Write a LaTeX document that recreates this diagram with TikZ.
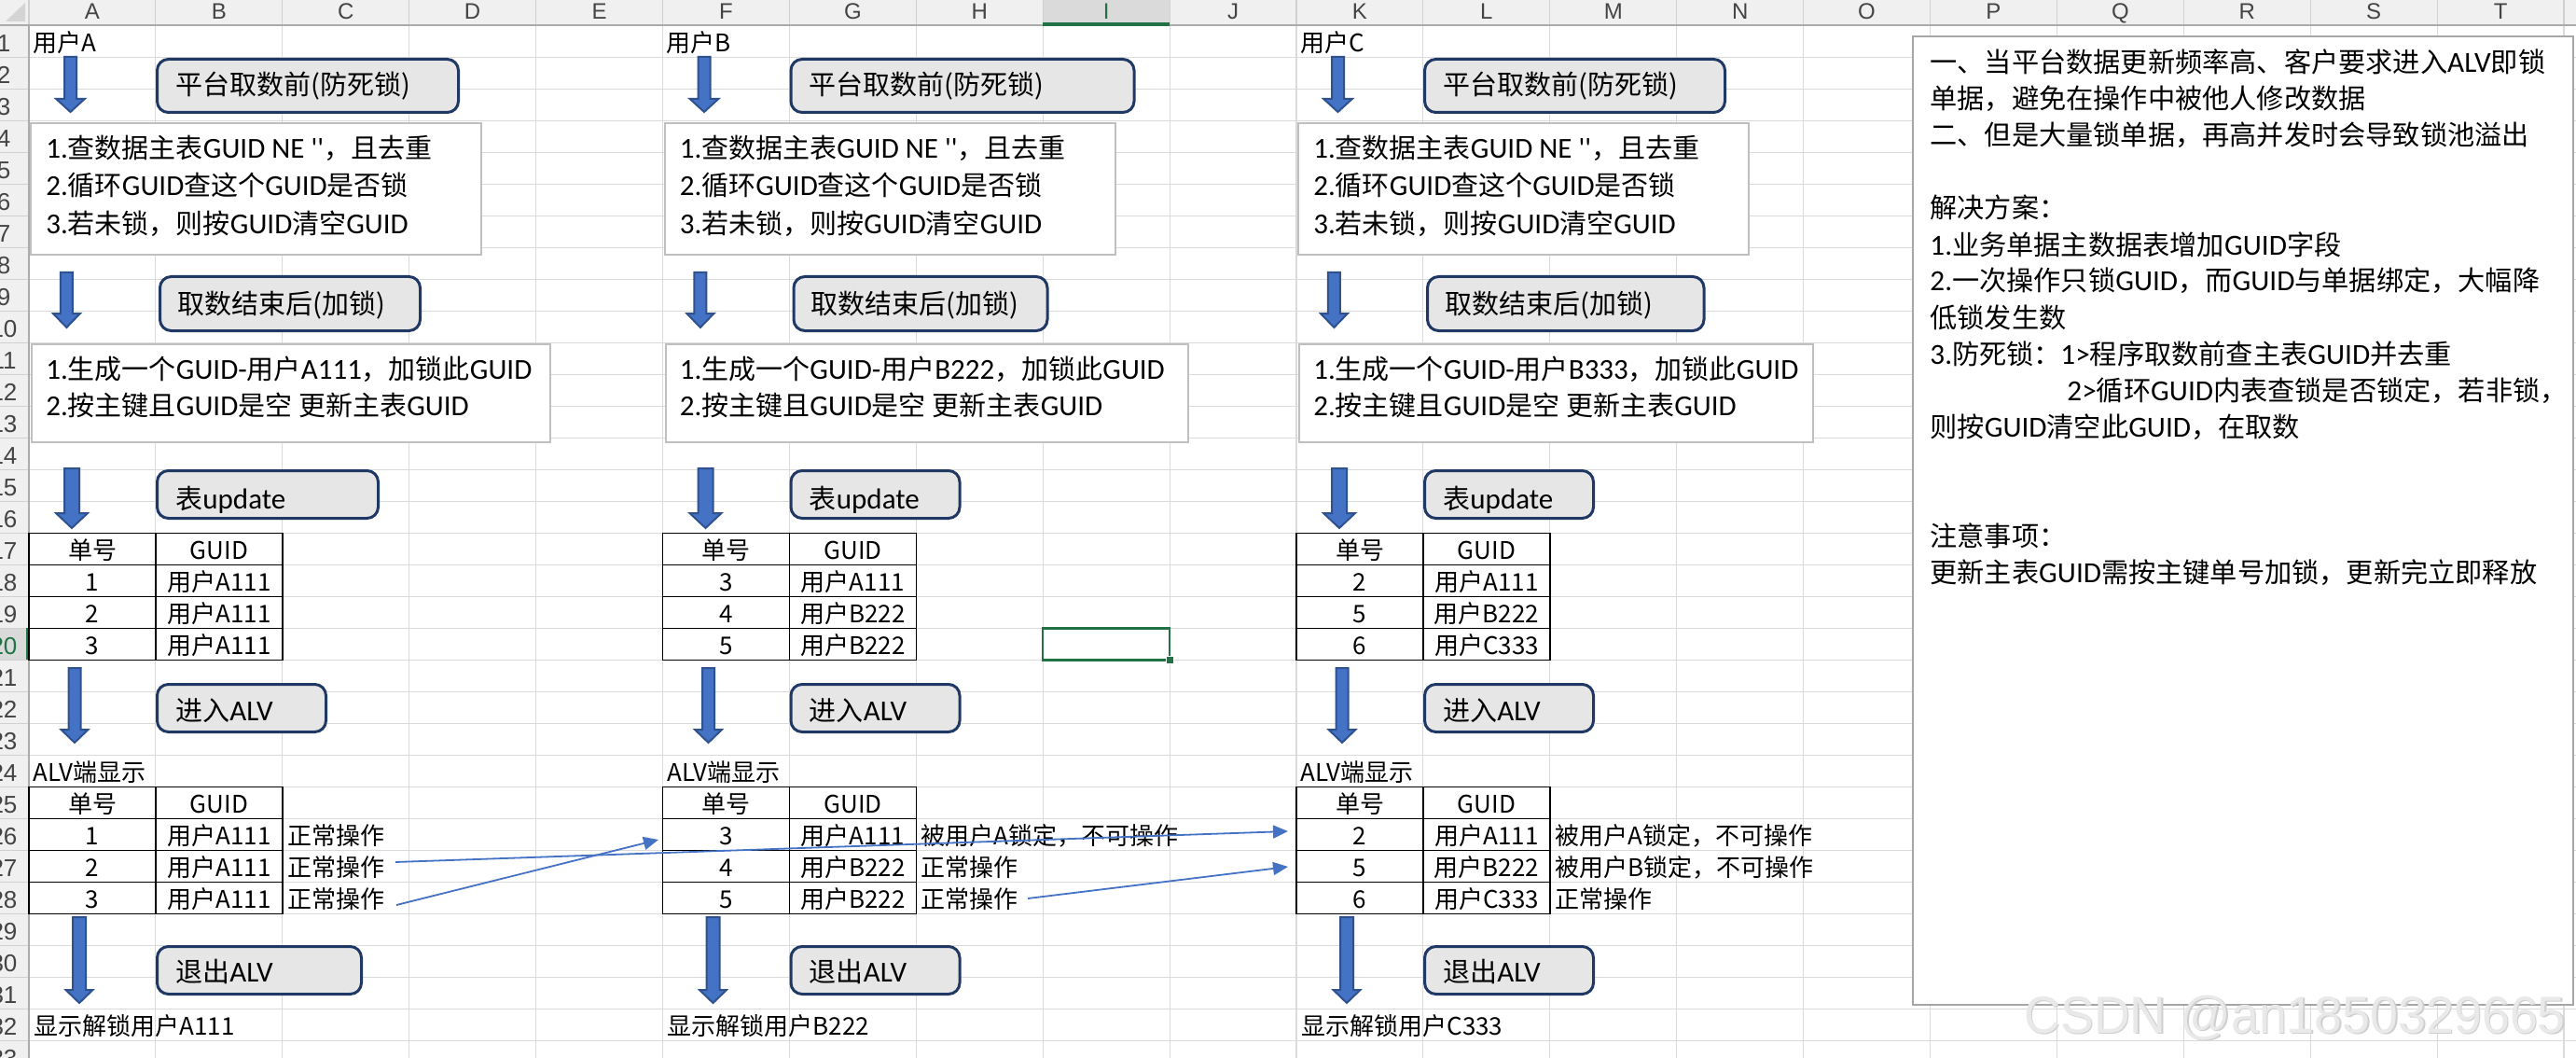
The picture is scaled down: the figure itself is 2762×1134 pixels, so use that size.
\documentclass[tikz,border=0pt]{standalone}
\usepackage{fontspec}
\setmainfont{Noto Sans CJK SC}
\newfontfamily\hdrfont{Liberation Sans}
\newfontfamily\latf{Carlito}[Scale=1.07]
\usetikzlibrary{arrows.meta}
\definecolor{xlblue}{HTML}{4472C4}
\definecolor{xlbluedark}{HTML}{2F528F}
\definecolor{boxnavy}{HTML}{1F3864}
\definecolor{boxfill}{HTML}{E7E6E6}
\definecolor{tbline}{HTML}{BFBFBF}
\definecolor{gridc}{HTML}{DADADA}
\definecolor{hdrbg}{HTML}{F0F0F0}
\definecolor{hdrsel}{HTML}{DADADA}
\definecolor{hdrsepc}{HTML}{D0D0D0}
\definecolor{hdrlinec}{HTML}{ABABAB}
\definecolor{hdrtxt}{HTML}{444444}
\definecolor{xlgreen}{HTML}{217346}
\definecolor{noteline}{HTML}{A6A6A6}
\definecolor{wmfill}{HTML}{E9E9E9}
\definecolor{wmshadow}{HTML}{CFCFCF}
\definecolor{cornerc}{HTML}{D4D4D4}
\newcommand\fsCell{\fontsize{13}{15}\selectfont}
\newcommand\fsBox{\fontsize{14.5}{17}\selectfont}
\newcommand\fsNote{\fontsize{14.6}{17}\selectfont}
\newcommand\fsHead{\hdrfont\fontsize{12}{14}\selectfont}
\newcommand\fsRow{\hdrfont\fontsize{13}{15}\selectfont}
\newcommand\fsMark{\hdrfont\fontsize{28}{30}\selectfont}
\tikzset{
  gridline/.style={draw=gridc, line width=0.55pt},
  hdrsep/.style={draw=hdrsepc, line width=0.55pt},
  hdrline/.style={draw=hdrlinec, line width=0.8pt},
  colhead/.style={font=\fsHead, text=hdrtxt, inner sep=0pt, anchor=base},
  rownum/.style={font=\fsRow, text=hdrtxt, inner sep=0pt, anchor=base},
  xcell/.style={font=\fsCell, inner sep=0pt, anchor=base west},
  xcellc/.style={font=\fsCell, inner sep=0pt, anchor=base},
  boxtext/.style={font=\fsBox, inner sep=0pt, anchor=base west},
  notetext/.style={font=\fsNote, inner sep=0pt, anchor=base west},
  stepbox/.style={draw=boxnavy, fill=boxfill, line width=1.5pt, rounded corners=6pt, inner sep=0pt, anchor=north west},
  infobox/.style={draw=tbline, fill=white, line width=1.1pt, inner sep=0pt, anchor=north west},
  notebox/.style={draw=noteline, fill=white, line width=1.2pt, inner sep=0pt, anchor=north west},
  barrow/.style={fill=xlblue, draw=xlbluedark, line width=1pt, line join=miter},
  tblline/.style={draw=black, line width=0.7pt},
  xlink/.style={draw=xlblue, line width=0.9pt, -{Triangle[length=8pt,width=7pt]}},
  wm/.style={font=\fsMark, inner sep=0pt, anchor=base west},
}
% block arrow: #1 centre x, #2 top, #3 head start, #4 tip, #5 shaft half width, #6 head half width
\newcommand\bdarrow[6]{%
  \filldraw[barrow] (#1-#5,#2) -- (#1+#5,#2) -- (#1+#5,#3) -- (#1+#6,#3) -- (#1,#4) -- (#1-#6,#3) -- (#1-#5,#3) -- cycle;}
% table grid: #1 x offset, #2 header row
\newcommand\tabgrid[2]{%
  \draw[tblline] ({#1+31},{27.3+34*(#2-1)}) rectangle ({#1+303},{27.3+34*(#2+3)});
  \draw[tblline] ({#1+167},{27.3+34*(#2-1)}) -- ({#1+167},{27.3+34*(#2+3)});
  \foreach \k in {0,1,2} \draw[tblline] ({#1+31},{27.3+34*(#2+\k)}) -- ({#1+303},{27.3+34*(#2+\k)});}
% table cells: #1 offset, #2 prefix, #3 header row, #4..#9 rows
\newcommand\tabcells[9]{%
  \node[xcellc] (#2-h#3a) at ({#1+99},{55.3+34*(#3-1)}) {单号};
  \node[xcellc] (#2-h#3b) at ({#1+235},{55.3+34*(#3-1)}) {GUID};
  \node[xcellc] (#2-n#3a) at ({#1+99},{55.3+34*#3}) {#4};
  \node[xcellc] (#2-g#3a) at ({#1+235},{55.3+34*#3}) {#5};
  \node[xcellc] (#2-n#3b) at ({#1+99},{55.3+34*(#3+1)}) {#6};
  \node[xcellc] (#2-g#3b) at ({#1+235},{55.3+34*(#3+1)}) {#7};
  \node[xcellc] (#2-n#3c) at ({#1+99},{55.3+34*(#3+2)}) {#8};
  \node[xcellc] (#2-g#3c) at ({#1+235},{55.3+34*(#3+2)}) {#9};}
% user block: #1 offset, #2 user letter/prefix, #3 unlock id, #4 box1 right, #5 box2 right,
% #6 info2 right, #7 update right, #8 exit right, #9 generated id
\newcommand\userblock[9]{%
  \node[xcell] (#2-user) at ({#1+35},55.3) {用户#2};
  \bdarrow{#1+75.5}{61}{106}{120}{6.5}{15.3}
  \node[stepbox, minimum width={(#4-167)*0.5pt}, minimum height=28.5pt] (#2-pre) at ({#1+167},62) {};
  \node[boxtext] (#2-pret) at ({#1+188},102) {平台取数前(防死锁)};
  \node[infobox, minimum width=241.5pt, minimum height=70.5pt] (#2-chk) at ({#1+32},131) {};
  \node[boxtext] (#2-chk1) at ({#1+49},170) {{\latf 1.}查数据主表{\latf GUID NE ''}，且去重};
  \node[boxtext] (#2-chk2) at ({#1+49},210) {{\latf 2.}循环{\latf GUID}查这个{\latf GUID}是否锁};
  \node[boxtext] (#2-chk3) at ({#1+49},250) {{\latf 3.}若未锁，则按{\latf GUID}清空{\latf GUID}};
  \bdarrow{#1+71.4}{292}{336}{351}{6.5}{14.5}
  \node[stepbox, minimum width={(#5-170)*0.5pt}, minimum height=29pt] (#2-post) at ({#1+170},295) {};
  \node[boxtext] (#2-postt) at ({#1+190},336) {取数结束后(加锁)};
  \node[infobox, minimum width={(#6-33)*0.5pt}, minimum height=52.5pt] (#2-gen) at ({#1+33},368) {};
  \node[boxtext] (#2-gen1) at ({#1+49},406) {{\latf 1.}生成一个{\latf GUID-}用户{\latf #9}，加锁此{\latf GUID}};
  \node[boxtext] (#2-gen2) at ({#1+49},445.5) {{\latf 2.}按主键且{\latf GUID}是空{\latf\ }更新主表{\latf GUID}};
  \bdarrow{#1+77}{502}{550}{566}{8}{17}
  \node[stepbox, minimum width={(#7-167)*0.5pt}, minimum height=25.5pt] (#2-upd) at ({#1+167},503) {};
  \node[boxtext] (#2-updt) at ({#1+188},545) {表{\latf update}};
  \tabgrid{#1}{17}
  \bdarrow{#1+80}{716}{782}{796}{6.5}{14.5}
  \node[stepbox, minimum width=90.5pt, minimum height=25.5pt] (#2-in) at ({#1+167},732) {};
  \node[boxtext] (#2-int) at ({#1+188},772) {进入{\latf ALV}};
  \node[xcell] (#2-alv) at ({#1+35.5},{55.3+34*23}) {ALV端显示};
  \tabgrid{#1}{25}
  \bdarrow{#1+85}{983}{1061}{1075}{7}{14.5}
  \node[stepbox, minimum width={(#8-167)*0.5pt}, minimum height=25.5pt] (#2-out) at ({#1+167},1013) {};
  \node[boxtext] (#2-outt) at ({#1+188},1052) {退出{\latf ALV}};
  \node[xcell] (#2-unl) at ({#1+36},{55.3+34*31}) {显示解锁用户#3};}
\begin{document}
\begin{tikzpicture}[x=0.5pt,y=-0.5pt]
\useasboundingbox (0,0) rectangle (2762,1134);
\clip (0,0) rectangle (2762,1134);
\fill[white] (0,0) rectangle (2762,1134);
% sheet grid
\foreach \k in {1,...,20} \draw[gridline] ({31+135.9*\k},27.3) -- ({31+135.9*\k},1134);
\foreach \r in {1,...,33} \draw[gridline] (31,{27.3+34*\r}) -- (2762,{27.3+34*\r});
% headers
\fill[hdrbg] (0,0) rectangle (2762,27.3);
\fill[hdrbg] (0,27.3) rectangle (31,1134);
\fill[hdrsel] (1118.2,0) rectangle (1254.1,27.3);
\fill[hdrsel] (0,{27.3+34*19}) rectangle (31,{27.3+34*20});
\foreach \k in {0,...,20} \draw[hdrsep] ({31+135.9*\k},0) -- ({31+135.9*\k},27.3);
\foreach \r in {1,...,33} \draw[hdrsep] (0,{27.3+34*\r}) -- (31,{27.3+34*\r});
\draw[hdrline] (0,27.3) -- (2762,27.3);
\draw[hdrline] (31,27.3) -- (31,1134);
\fill[xlgreen] (1118.2,24.3) rectangle (1254.1,27.8);
\fill[xlgreen] (28,{27.3+34*19}) rectangle (31.5,{27.3+34*20});
\fill[cornerc] (6,23) -- (27,23) -- (27,3) -- cycle;
\foreach \L/\i in {A/0,B/1,C/2,D/3,E/4,F/5,G/6,H/7,J/9,K/10,L/11,M/12,N/13,O/14,P/15,Q/16,R/17,S/18,T/19}
  \node[colhead] (col\L) at ({31+135.9*(\i+0.5)},21) {\L};
\node[colhead, text=xlgreen] (colI) at ({31+135.9*8.5},21) {I};
\foreach \r in {1,...,19,21,22,...,33}
  \node[rownum] (row\r) at (4,{55.3+34*(\r-1)}) {\r};
\node[rownum, text=xlgreen] (row20) at (4,{55.3+34*19}) {20};
% three user blocks
\userblock{0}{A}{A111}{490}{449}{589}{404}{386}{A111}
\userblock{679.5}{B}{B222}{535}{442}{593}{348}{348}{B222}
\userblock{1359}{C}{C333}{489}{466.5}{584}{348}{348}{B333}
% table contents
\tabcells{0}{A}{17}{1}{用户A111}{2}{用户A111}{3}{用户A111}
\tabcells{0}{A}{25}{1}{用户A111}{2}{用户A111}{3}{用户A111}
\tabcells{679.5}{B}{17}{3}{用户A111}{4}{用户B222}{5}{用户B222}
\tabcells{679.5}{B}{25}{3}{用户A111}{4}{用户B222}{5}{用户B222}
\tabcells{1359}{C}{17}{2}{用户A111}{5}{用户B222}{6}{用户C333}
\tabcells{1359}{C}{25}{2}{用户A111}{5}{用户B222}{6}{用户C333}
% status texts
\node[xcell] (A-op26) at (308,{55.3+34*25}) {正常操作};
\node[xcell] (A-op27) at (308,{55.3+34*26}) {正常操作};
\node[xcell] (A-op28) at (308,{55.3+34*27}) {正常操作};
\node[xcell] (B-op26) at (987.5,{55.3+34*25}) {被用户A锁定，不可操作};
\node[xcell] (B-op27) at (987.5,{55.3+34*26}) {正常操作};
\node[xcell] (B-op28) at (987.5,{55.3+34*27}) {正常操作};
\node[xcell] (C-op26) at (1667,{55.3+34*25}) {被用户A锁定，不可操作};
\node[xcell] (C-op27) at (1667,{55.3+34*26}) {被用户B锁定，不可操作};
\node[xcell] (C-op28) at (1667,{55.3+34*27}) {正常操作};
% selected cell
\draw[xlgreen, line width=1.25pt] (1118.2,{27.3+34*19}) rectangle (1254.1,{27.3+34*20});
\filldraw[fill=xlgreen, draw=white, line width=0.4pt] (1250,703.3) rectangle (1258,711.3);
% note box
\node[notebox, minimum width=354pt, minimum height=519pt] (note) at (2050,38) {};
\node[notetext] (n1) at (2069,78) {一、当平台数据更新频率高、客户要求进入{\latf ALV}即锁};
\node[notetext] (n2) at (2069,117) {单据，避免在操作中被他人修改数据};
\node[notetext] (n3) at (2069,156) {二、但是大量锁单据，再高并发时会导致锁池溢出};
\node[notetext] (n5) at (2069,234) {解决方案：};
\node[notetext] (n6) at (2069,273) {{\latf 1.}业务单据主数据表增加{\latf GUID}字段};
\node[notetext] (n7) at (2069,312) {{\latf 2.}一次操作只锁{\latf GUID}，而{\latf GUID}与单据绑定，大幅降};
\node[notetext] (n8) at (2069,351) {低锁发生数};
\node[notetext] (n9) at (2069,390) {\makebox[70pt][l]{{\latf 3.}防死锁：}{\latf 1>}程序取数前查主表{\latf GUID}并去重};
\node[notetext] (n10) at (2216,429) {{\latf 2>}循环{\latf GUID}内表查锁是否锁定，若非锁，};
\node[notetext] (n11) at (2069,468) {则按{\latf GUID}清空此{\latf GUID}，在取数};
\node[notetext] (n14) at (2069,585) {注意事项：};
\node[notetext] (n15) at (2069,624) {更新主表{\latf GUID}需按主键单号加锁，更新完立即释放};
% cross links
\coordinate (A27s) at (424,924);
\coordinate (C26e) at (1381,891);
\coordinate (A28s) at (425,970);
\coordinate (B26e) at (706,900);
\coordinate (B28s) at (1102,963);
\coordinate (C27e) at (1381,929);
\draw[xlink] (A27s) -- (C26e);
\draw[xlink] (A28s) -- (B26e);
\draw[xlink] (B28s) -- (C27e);
% watermark
\node[wm, text=wmshadow] (wmark-s) at (2171.5,1108.5) {\scalebox{0.96}[1]{CSDN @an1850329665}};
\node[wm, text=wmfill] (wmark) at (2170,1107) {\scalebox{0.96}[1]{CSDN @an1850329665}};
\end{tikzpicture}
\end{document}
